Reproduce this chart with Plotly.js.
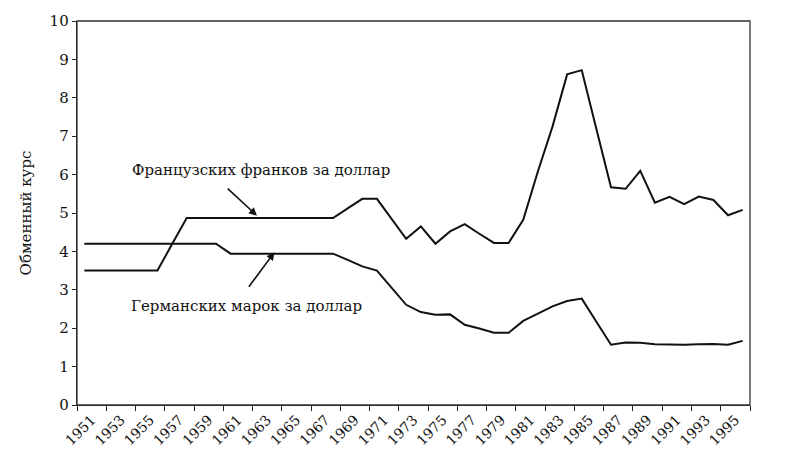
<!DOCTYPE html>
<html>
<head>
<meta charset="utf-8">
<script src="https://cdn.plot.ly/plotly-3.0.1.min.js"></script>
<style>
    html, body { margin: 0; padding: 0; background: #fff; }
    #chart { width: 786px; height: 454px; }
</style>
</head>
<body>
<div id="chart"></div>
<script>
// Years on the category axis (one point per year)
const years = [
    1951, 1952, 1953, 1954, 1955, 1956, 1957, 1958, 1959, 1960,
    1961, 1962, 1963, 1964, 1965, 1966, 1967, 1968, 1969, 1970,
    1971, 1972, 1973, 1974, 1975, 1976, 1977, 1978, 1979, 1980,
    1981, 1982, 1983, 1984, 1985, 1986, 1987, 1988, 1989, 1990,
    1991, 1992, 1993, 1994, 1995, 1996,
];

// Французских франков за доллар
const francs = [
    3.50, 3.50, 3.50, 3.50, 3.50, 3.50, 4.19, 4.87, 4.87, 4.87,
    4.87, 4.87, 4.87, 4.87, 4.87, 4.87, 4.87, 4.87, 5.12, 5.37,
    5.37, 4.85, 4.33, 4.65, 4.20, 4.52, 4.71, 4.46, 4.22, 4.22,
    4.82, 6.08, 7.25, 8.61, 8.72, 7.19, 5.67, 5.63, 6.10, 5.27,
    5.42, 5.23, 5.43, 5.34, 4.94, 5.08,
];

// Германских марок за доллар
const marks = [
    4.20, 4.20, 4.20, 4.20, 4.20, 4.20, 4.20, 4.20, 4.20, 4.20,
    3.94, 3.94, 3.94, 3.94, 3.94, 3.94, 3.94, 3.94, 3.78, 3.61,
    3.50, 3.06, 2.61, 2.42, 2.35, 2.36, 2.09, 1.99, 1.88, 1.88,
    2.19, 2.38, 2.57, 2.71, 2.77, 2.17, 1.57, 1.63, 1.62, 1.58,
    1.57, 1.57, 1.58, 1.59, 1.57, 1.67,
];

// Every second year is labelled
const tickLabels = [
    "1951", "1953", "1955", "1957", "1959", "1961", "1963", "1965",
    "1967", "1969", "1971", "1973", "1975", "1977", "1979", "1981",
    "1983", "1985", "1987", "1989", "1991", "1993", "1995",
];

const serif = "DejaVu Serif, Liberation Serif, serif";
const xRange = [years[0] - 0.5, years[years.length - 1] + 0.5];

// Each label is centred on its two-year group; the tick marks (minor ticks)
// sit on the group boundaries.
const labelPos = tickLabels.map(t => Number(t) + 0.5);

const lineStyle = { color: "#111", width: 2 };
const arrowStyle = {
    text: "",
    showarrow: true,
    axref: "x", ayref: "y",
    arrowhead: 2,
    arrowsize: 1,
    arrowwidth: 1.6,
    arrowcolor: "#111",
    standoff: 0,
};

Plotly.newPlot("chart", [{
    type: "scatter",
    mode: "lines",
    name: "Французских франков за доллар",
    x: years, y: francs,
    line: lineStyle,
}, {
    type: "scatter",
    mode: "lines",
    name: "Германских марок за доллар",
    x: years, y: marks,
    line: lineStyle,
}], {
    width: 786,
    height: 454,
    showlegend: false,
    paper_bgcolor: "#fff",
    plot_bgcolor: "#fff",
    margin: { l: 77, r: 36, t: 21, b: 49, pad: 0 },
    font: { family: serif, color: "#111", size: 14 },
    xaxis: {
        range: xRange,
        tickmode: "array",
        tickvals: labelPos,
        ticktext: tickLabels,
        tickangle: -45,
        ticks: "",
        tickfont: { family: serif, size: 14, color: "#111" },
        minor: {
            tickmode: "linear",
            tick0: xRange[0],
            dtick: 2,
            ticks: "outside",
            ticklen: 5,
            tickcolor: "#222",
            showgrid: false,
        },
        showgrid: false,
        zeroline: false,
        showline: true,
        linecolor: "#222",
        linewidth: 1.3,
    },
    yaxis: {
        range: [0, 10],
        dtick: 1,
        ticks: "outside",
        ticklen: 4,
        tickcolor: "#222",
        tickfont: { family: serif, size: 15, color: "#111" },
        showgrid: false,
        zeroline: false,
        showline: true,
        linecolor: "#222",
        linewidth: 1.3,
        title: { text: "Обменный курс", font: { family: serif, size: 15 }, standoff: 14 },
    },
    // plot frame (top and right edges of the box)
    shapes: [{
        type: "rect",
        xref: "paper", yref: "paper",
        x0: 0, x1: 1, y0: 0, y1: 1,
        line: { color: "#333", width: 1.3 },
        layer: "above",
    }],
    annotations: [{
        x: 1963.06, y: 6.12,
        text: "Французских франков за доллар",
        showarrow: false,
        font: { family: serif, size: 15, color: "#111" },
    }, {
        x: 1962.1, y: 2.57,
        text: "Германских марок за доллар",
        showarrow: false,
        font: { family: serif, size: 15, color: "#111" },
    }, {
        ...arrowStyle,
        x: 1962.8, y: 4.93,
        ax: 1960.7, ay: 5.67,
    }, {
        ...arrowStyle,
        x: 1964.0, y: 3.98,
        ax: 1962.17, ay: 3.04,
    }],
}, { displayModeBar: false, staticPlot: true });
</script>
</body>
</html>
